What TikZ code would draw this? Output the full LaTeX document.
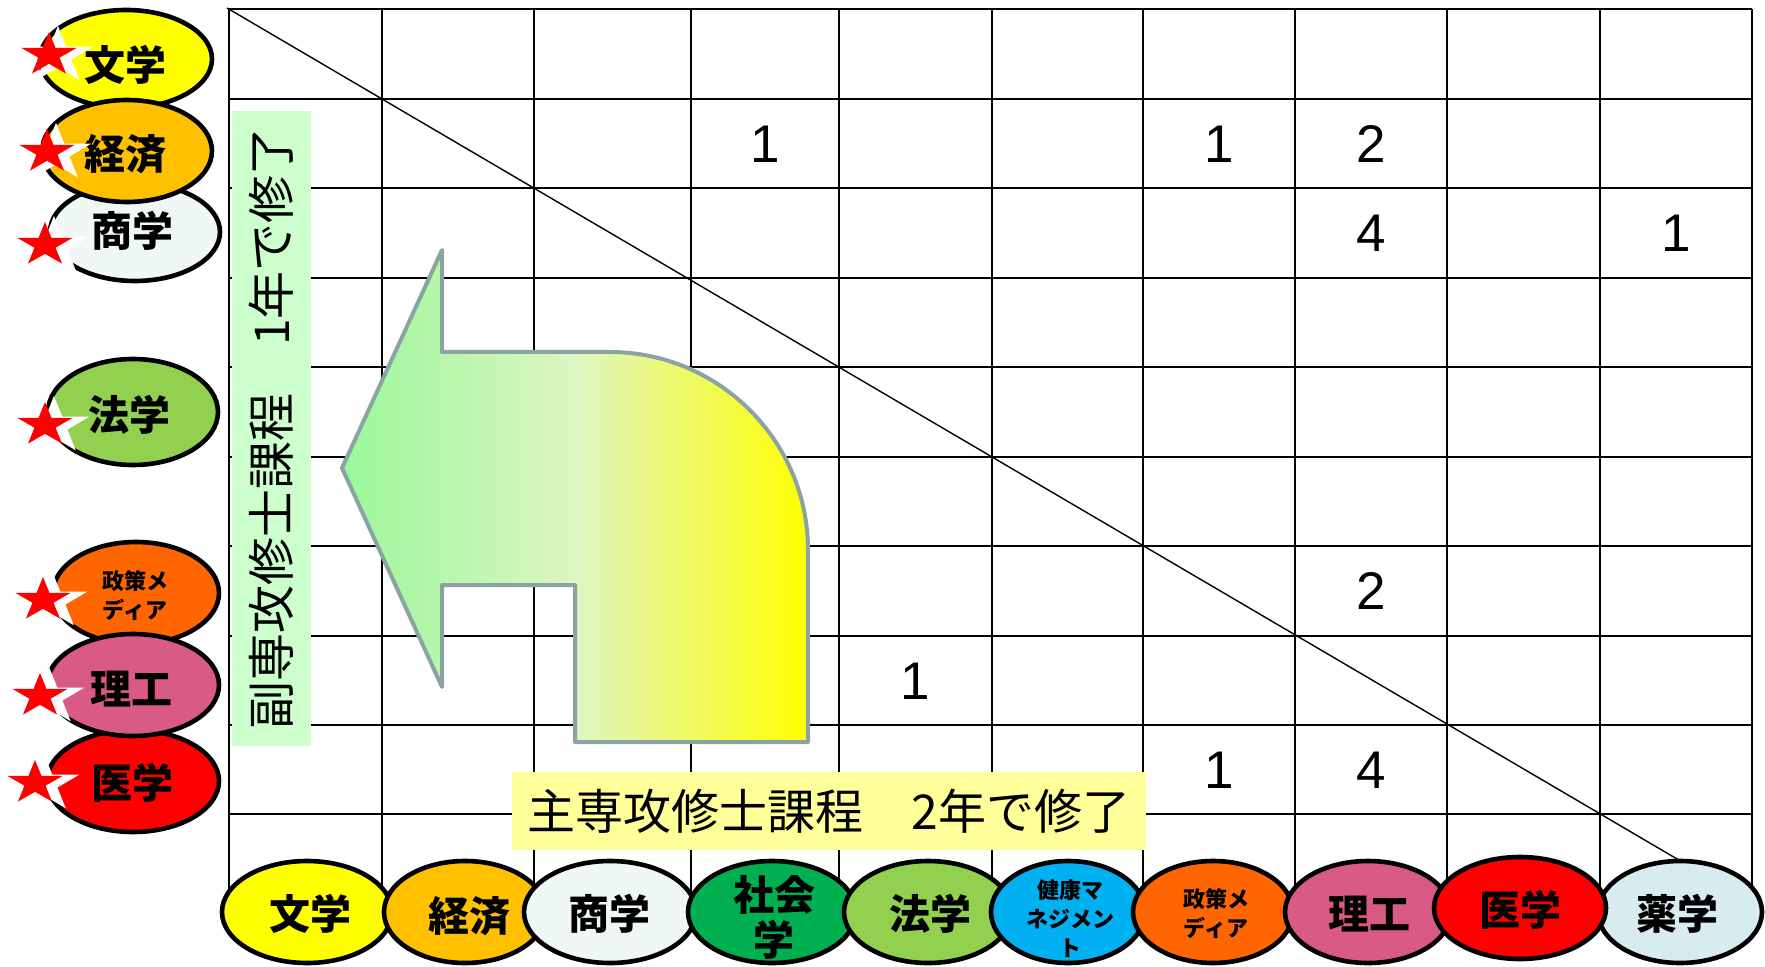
\documentclass[tikz,border=0pt]{standalone}
\usepackage{fontspec}
\newfontfamily\jp{Noto Sans CJK JP}
\newfontfamily\numf{Liberation Sans}
\usetikzlibrary{shapes.geometric,calc}
\definecolor{cbun}{HTML}{FFFF00}
\definecolor{ckei}{HTML}{FFC000}
\definecolor{csho}{HTML}{F0F8F7}
\definecolor{csha}{HTML}{00B050}
\definecolor{chou}{HTML}{92D050}
\definecolor{cken}{HTML}{00B0F0}
\definecolor{csei}{HTML}{FF6600}
\definecolor{cri}{HTML}{DA5A87}
\definecolor{cigaku}{HTML}{FF0000}
\definecolor{cyaku}{HTML}{D8ECEF}
\definecolor{bandgreen}{HTML}{CCFFCC}
\definecolor{bandyellow}{HTML}{FFFF99}
\definecolor{arrowline}{HTML}{8CA3A5}
\definecolor{agreen}{HTML}{9AF89A}
\definecolor{amid}{HTML}{DDF5C2}
\definecolor{ayellow}{HTML}{FFFF00}
\pgfdeclarehorizontalshading{arrowshade}{100bp}{color(0bp)=(agreen); color(25bp)=(agreen); color(50bp)=(amid); color(75bp)=(ayellow); color(100bp)=(ayellow)}
\newcommand\starpoly[4]{($(#1,#2)+(270:#3 and #4)$) -- ($(#1,#2)+(306:{0.382*#3} and {0.382*#4})$) -- ($(#1,#2)+(342:#3 and #4)$) -- ($(#1,#2)+(18:{0.382*#3} and {0.382*#4})$) -- ($(#1,#2)+(54:#3 and #4)$) -- ($(#1,#2)+(90:{0.382*#3} and {0.382*#4})$) -- ($(#1,#2)+(126:#3 and #4)$) -- ($(#1,#2)+(162:{0.382*#3} and {0.382*#4})$) -- ($(#1,#2)+(198:#3 and #4)$) -- ($(#1,#2)+(234:{0.382*#3} and {0.382*#4})$) -- cycle}
\newcommand\redstar[2]{\fill[white] \starpoly{#1+9}{#2+1}{37}{30}; \fill[red] \starpoly{#1}{#2}{29}{23};}
\tikzset{
  ell/.style={ellipse, draw=black, line width=2.3pt, inner sep=0pt},
  lbl/.style={inner sep=0pt, align=center, font=\jp\bfseries\fontsize{20.5pt}{22.5pt}\selectfont},
  lblsmall/.style={inner sep=0pt, align=center, font=\jp\bfseries\fontsize{11pt}{14.5pt}\selectfont},
  num/.style={inner sep=0pt, font=\numf\fontsize{26.5pt}{30pt}\selectfont},
  gridline/.style={line width=1.15pt, black},
  diag/.style={line width=0.7pt, black},
  band/.style={inner sep=0pt, font=\jp\fontsize{24pt}{26pt}\selectfont},
  bigarrow/.style={draw=arrowline, line width=2pt, line join=round, shading=arrowshade}
}
\begin{document}
\begin{tikzpicture}[x=0.5pt,y=-0.5pt]
\useasboundingbox (0,0) rectangle (1765,967);
% grid
\foreach \x in {229,382,534,691,839,992,1143,1295,1447,1600,1752}
  \draw[gridline] (\x,9) -- (\x,903);
\foreach \y in {9,99,188,278,367,457,546,636,725,814,903}
  \draw[gridline] (229,\y) -- (1752,\y);
\coordinate (d0) at (227,8);
\coordinate (d1) at (1752,903);
\draw[diag] (d0) -- (d1);
% numbers
\node[num] (n1) at (765,144) {1};
\node[num] (n2) at (1219,144) {1};
\node[num] (n3) at (1371,144) {2};
\node[num] (n4) at (1371,233) {4};
\node[num] (n5) at (1676,233) {1};
\node[num] (n6) at (1371,591) {2};
\node[num] (n7) at (915,681) {1};
\node[num] (n8) at (1219,770) {1};
\node[num] (n9) at (1371,770) {4};
% green band
\node[band, fill=bandgreen, rotate=90, minimum width=317.5pt, minimum height=39.5pt] (gband) at (271.5,428.5) {副専攻修士課程　1年で修了};
% arrow
\path[bigarrow] (342,468) -- (442,250) -- (442,352) -- (610,352) .. controls (719,352) and (808,441) .. (808,550) -- (808,742) -- (575,742) -- (575,585) -- (442,585) -- (442,687) -- cycle;
% yellow band
\node[band, fill=bandyellow, minimum width=317pt, minimum height=39pt] (yband) at (829,811) {主専攻修士課程　2年で修了};
% left ellipses
\node[ell, fill=cbun, minimum width=86pt, minimum height=49pt] (L1) at (126,59) {};
\node[ell, fill=csho, minimum width=85pt, minimum height=49pt] (L3) at (135,232) {};
\node[ell, fill=ckei, minimum width=85pt, minimum height=51pt] (L2) at (127,151) {};
\node[ell, fill=chou, minimum width=85pt, minimum height=53pt] (L4) at (133,412) {};
\node[ell, fill=csei, minimum width=83pt, minimum height=51pt] (L5) at (136,593) {};
\node[ell, fill=cigaku, minimum width=86pt, minimum height=51pt] (L7) at (133,781) {};
\node[ell, fill=cri, minimum width=86pt, minimum height=51pt] (L6) at (133,685) {};
\node[lbl] (tL1) at (125,65) {文学};
\node[lbl] (tL2) at (125,154) {経済};
\node[lbl] (tL3) at (132,231) {商学};
\node[lbl] (tL4) at (129,415) {法学};
\node[lblsmall] (tL5) at (135,596) {政策メ\\ディア};
\node[lbl] (tL6) at (131,689) {理工};
\node[lbl] (tL7) at (132,783) {医学};
% stars
\redstar{49}{55}
\redstar{47}{152}
\redstar{45}{245}
\redstar{45}{425}
\redstar{43}{600}
\redstar{40}{696}
\redstar{35}{783}
% bottom ellipses
\node[ell, fill=cbun, minimum width=85pt, minimum height=51pt] (B1) at (307,912) {};
\node[ell, fill=ckei, minimum width=81pt, minimum height=51pt] (B2) at (465,912) {};
\node[ell, fill=csho, minimum width=86pt, minimum height=51pt] (B3) at (610,912) {};
\node[ell, fill=csha, minimum width=84pt, minimum height=51pt] (B4) at (772,912) {};
\node[ell, fill=chou, minimum width=84pt, minimum height=51pt] (B5) at (928,912) {};
\node[ell, fill=cken, minimum width=77pt, minimum height=51pt] (B6) at (1068,912) {};
\node[ell, fill=csei, minimum width=80pt, minimum height=51pt] (B7) at (1213,912) {};
\node[ell, fill=cri, minimum width=83pt, minimum height=51pt] (B8) at (1368,912) {};
\node[ell, fill=cyaku, minimum width=82pt, minimum height=51pt] (B10) at (1680,912) {};
\node[ell, fill=cigaku, minimum width=86pt, minimum height=51pt] (B9) at (1520,908) {};
\node[lbl] (tB1) at (310,914) {文学};
\node[lbl] (tB2) at (469,916) {経済};
\node[lbl] (tB3) at (609,914) {商学};
\node[lbl] (tB4) at (774,917) {社会\\学};
\node[lbl] (tB5) at (930,914) {法学};
\node[lblsmall] (tB6) at (1070,919) {健康マ\\ネジメン\\ト};
\node[lblsmall] (tB7) at (1216,914) {政策メ\\ディア};
\node[lbl] (tB8) at (1369,914) {理工};
\node[lbl] (tB9) at (1520,910) {医学};
\node[lbl] (tB10) at (1677,914) {薬学};
\end{tikzpicture}
\end{document}
